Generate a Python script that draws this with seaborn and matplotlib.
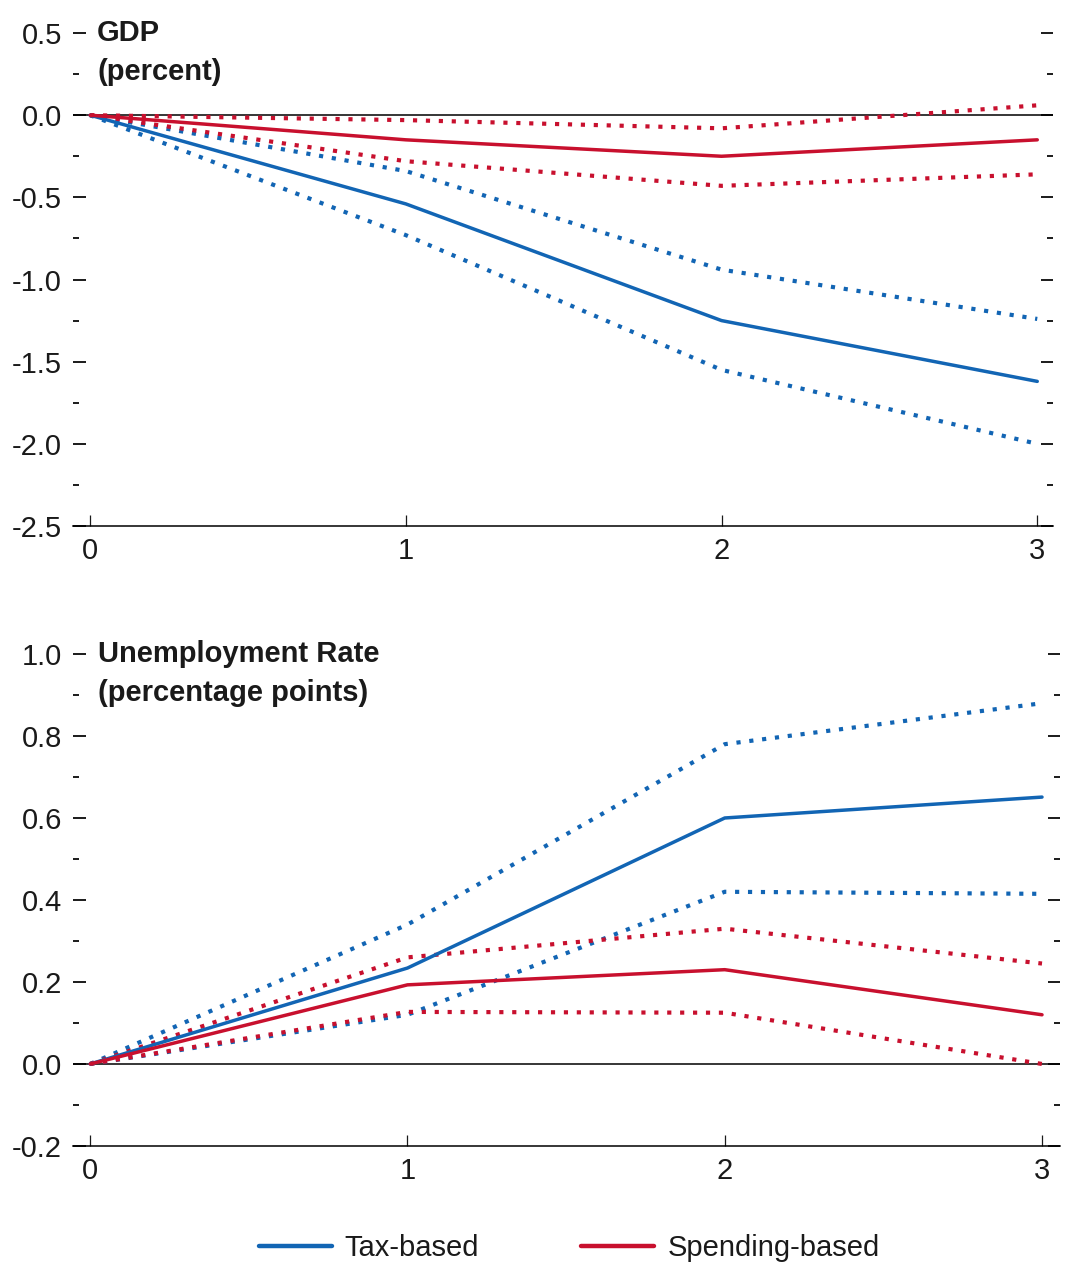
import matplotlib
matplotlib.use("Agg")
import matplotlib.pyplot as plt
from matplotlib import font_manager
from matplotlib.ticker import MultipleLocator, FixedLocator
import seaborn as sns

# Horizon (years after consolidation)
horizon = [0, 1, 2, 3]

# GDP response (percent)
gdp_tax = [0.0, -0.54, -1.25, -1.62]
gdp_tax_hi = [0.0, -0.34, -0.94, -1.24]
gdp_tax_lo = [0.0, -0.73, -1.55, -2.00]
gdp_spend = [0.0, -0.15, -0.25, -0.15]
gdp_spend_hi = [0.0, -0.03, -0.08, 0.06]
gdp_spend_lo = [0.0, -0.28, -0.43, -0.36]

# Unemployment rate response (percentage points)
ur_tax = [0.0, 0.234, 0.60, 0.651]
ur_tax_hi = [0.0, 0.34, 0.78, 0.88]
ur_tax_lo = [0.0, 0.12, 0.42, 0.415]
ur_spend = [0.0, 0.193, 0.23, 0.12]
ur_spend_hi = [0.0, 0.26, 0.33, 0.245]
ur_spend_lo = [0.0, 0.127, 0.125, 0.0]

series_names = ["Tax-based", "Spending-based"]

BLUE = "#1265b4"
RED = "#c8102e"
INK = "#1a1a1a"

sns.set_theme(style="white")
available = {f.name for f in font_manager.fontManager.ttflist}
base_font = "Liberation Sans Narrow" if "Liberation Sans Narrow" in available else "Liberation Sans"
plt.rcParams["font.family"] = [base_font, "DejaVu Sans"]

fig = plt.figure(figsize=(10.68, 12.65), dpi=100)
ax_top = fig.add_axes([0.0684, 0.5842, 0.9176, 0.3897])
ax_bot = fig.add_axes([0.0684, 0.0941, 0.9242, 0.3889])


def draw_panel(ax, tax, tax_hi, tax_lo, spend, spend_hi, spend_lo):
    ax.axhline(0, color="black", lw=1.1, zorder=1)
    dotted = (0, (1, 2.1))
    for vals, col in [(tax_hi, BLUE), (tax_lo, BLUE), (spend_hi, RED), (spend_lo, RED)]:
        sns.lineplot(x=horizon, y=vals, ax=ax, color=col, lw=3.0, linestyle=dotted,
                     zorder=2, legend=False)
    sns.lineplot(x=horizon, y=tax, ax=ax, color=BLUE, lw=2.5, zorder=3,
                 label=series_names[0], legend=False)
    sns.lineplot(x=horizon, y=spend, ax=ax, color=RED, lw=2.5, zorder=3,
                 label=series_names[1], legend=False)


draw_panel(ax_top, gdp_tax, gdp_tax_hi, gdp_tax_lo, gdp_spend, gdp_spend_hi, gdp_spend_lo)
draw_panel(ax_bot, ur_tax, ur_tax_hi, ur_tax_lo, ur_spend, ur_spend_hi, ur_spend_lo)

ax_top.set_xlim(-0.054, 3.05)
ax_top.set_ylim(-2.5, 0.5)
ax_top.yaxis.set_major_locator(MultipleLocator(0.5))
ax_top.yaxis.set_minor_locator(MultipleLocator(0.25))

ax_bot.set_xlim(-0.054, 3.057)
ax_bot.set_ylim(-0.2, 1.0)
ax_bot.yaxis.set_major_locator(MultipleLocator(0.2))
ax_bot.yaxis.set_minor_locator(MultipleLocator(0.1))

for ax in (ax_top, ax_bot):
    ax.xaxis.set_major_locator(FixedLocator(horizon))
    for side in ("top", "left", "right"):
        ax.spines[side].set_visible(False)
    ax.spines["bottom"].set_color("black")
    ax.spines["bottom"].set_linewidth(1.1)
    ax.tick_params(axis="y", which="both", direction="in", left=True, right=True,
                   labelleft=True, labelright=False, color=INK, labelcolor=INK,
                   labelsize=21, pad=8)
    ax.tick_params(axis="y", which="major", length=9, width=1.4)
    ax.tick_params(axis="y", which="minor", length=4.5, width=1.4)
    ax.tick_params(axis="x", which="major", direction="in", bottom=True, length=8,
                   width=0.9, color=INK, labelcolor=INK, labelsize=21, pad=8)
    ax.set_xlabel("")
    ax.set_ylabel("")
    ax.yaxis.set_major_formatter(plt.FuncFormatter(lambda v, p: f"{v:.1f}"))
    ax.grid(False)

title_kw = dict(fontsize=21, fontweight="bold", color=INK, ha="left", va="center")
ax_top.text(0.022, 0.5, "GDP", **title_kw)
ax_top.text(0.022, 0.26, "(percent)", **title_kw)
ax_bot.text(0.025, 1.0, "Unemployment Rate", **title_kw)
ax_bot.text(0.025, 0.905, "(percentage points)", **title_kw)

handles = [plt.Line2D([], [], color=BLUE, lw=3.2), plt.Line2D([], [], color=RED, lw=3.2)]
fig.legend(handles, series_names, loc="center", bbox_to_anchor=(0.533, 0.0134), ncol=2,
           frameon=False, fontsize=21, handlelength=2.5, handletextpad=0.45,
           columnspacing=3.5, labelcolor=INK)

fig.savefig("out.png", dpi=100)
